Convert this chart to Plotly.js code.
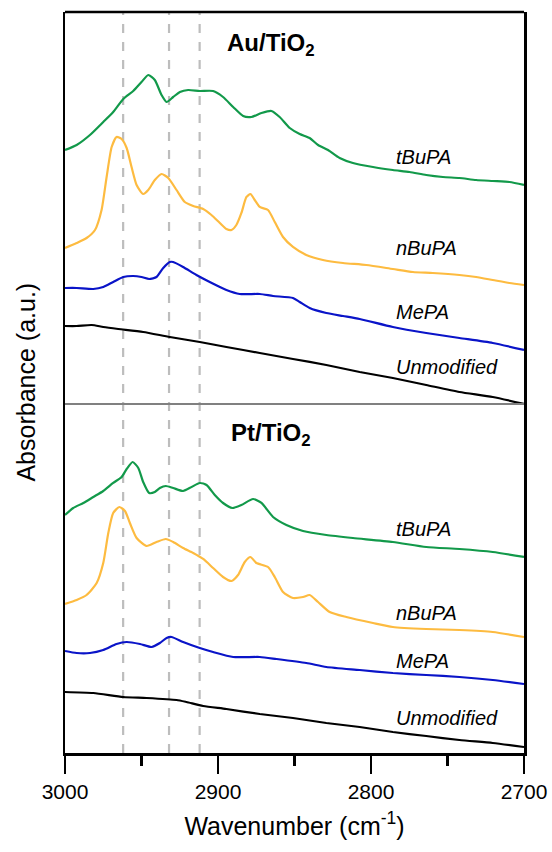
<!DOCTYPE html>
<html>
<head>
<meta charset="utf-8">
<script src="https://cdn.plot.ly/plotly-3.0.1.min.js"></script>
<style>html,body{margin:0;padding:0;background:#fff;}#chart{width:552px;height:852px;}</style>
</head>
<body>
<div id="chart"></div>
<script>
// ---- Au/TiO2 panel ----
const auTBuX = [3000,2992.4,2983.7,2975,2968.5,2961.9,2955.4,2950,2945.6,2941.3,2936.9,2933.6,2929.3,2924.9,2919.5,2911.9,2903.2,2896.7,2890.1,2883.6,2878.2,2871.6,2865.1,2859.7,2853.1,2846.6,2840.1,2834.6,2828.1,2820.5,2811.8,2798.7,2785.7,2774.8,2763.9,2753,2742.2,2731.3,2720.4,2709.5,2700];
const auTBuY = [2.54,2.59,2.69,2.82,2.92,3.05,3.13,3.22,3.29,3.24,3.09,3.02,3.07,3.12,3.14,3.13,3.13,3.07,2.97,2.88,2.87,2.91,2.93,2.87,2.76,2.70,2.66,2.59,2.54,2.46,2.41,2.37,2.34,2.32,2.29,2.27,2.26,2.24,2.23,2.22,2.19];
const auNBuX = [3000,2992.4,2985.9,2980.4,2976.1,2972.8,2969.5,2966.3,2963,2959.7,2956.5,2953.2,2948.9,2945.6,2941.3,2936.9,2932.5,2927.1,2921.7,2916.2,2909.7,2904.3,2898.8,2894.5,2891.2,2888,2884.7,2881.4,2878.8,2876,2872.7,2867.3,2862.9,2857.5,2851,2842.3,2831.4,2818.3,2803.1,2785.7,2772.6,2759.6,2742.2,2731.3,2720.4,2709.5,2700];
const auNBuY = [1.56,1.61,1.66,1.74,1.94,2.27,2.57,2.67,2.65,2.56,2.37,2.19,2.10,2.14,2.24,2.30,2.26,2.14,2.02,1.98,1.95,1.89,1.81,1.75,1.74,1.79,1.91,2.07,2.10,2.04,1.97,1.94,1.82,1.67,1.57,1.49,1.44,1.41,1.39,1.35,1.32,1.31,1.29,1.27,1.24,1.21,1.19];
const auMeX = [3000,2992.4,2981.5,2975,2968.5,2961.9,2955.4,2950,2945,2940.2,2935.8,2931.5,2929.3,2922.8,2914.1,2905.4,2894.5,2885.8,2872.7,2864,2851,2846.6,2840.1,2829.2,2818.3,2807.4,2785.7,2763.9,2742.2,2720.4,2700];
const auMeY = [1.16,1.16,1.15,1.17,1.22,1.27,1.28,1.27,1.25,1.27,1.36,1.42,1.42,1.37,1.29,1.22,1.14,1.10,1.10,1.08,1.06,1.02,0.96,0.91,0.88,0.85,0.77,0.71,0.66,0.61,0.54];
const auUnX = [3000,2992.4,2982.6,2975,2965.2,2948.9,2931.5,2911.9,2894.5,2872.7,2851,2829.2,2807.4,2785.7,2763.9,2742.2,2720.4,2700];
const auUnY = [0.78,0.78,0.79,0.77,0.75,0.72,0.67,0.62,0.57,0.51,0.45,0.39,0.32,0.26,0.19,0.12,0.07,0.00];

// ---- Pt/TiO2 panel ----
const ptTBuX = [3000,2994.6,2988,2981.5,2975,2968.5,2963,2959.7,2955.8,2952.1,2948.9,2945,2941.3,2938,2934.1,2929.3,2922.8,2917.3,2911.9,2907.5,2902.1,2896.7,2890.6,2884.7,2877.1,2871.6,2864,2855.3,2844.4,2829.2,2811.8,2785.7,2763.9,2742.2,2720.4,2700];
const ptTBuY = [2.37,2.44,2.49,2.55,2.61,2.69,2.75,2.83,2.90,2.84,2.70,2.59,2.60,2.64,2.66,2.64,2.61,2.65,2.69,2.67,2.57,2.49,2.44,2.47,2.53,2.49,2.35,2.27,2.21,2.17,2.14,2.10,2.05,2.03,2.00,1.95];
const ptNBuX = [3000,2992.4,2985.9,2979.3,2975,2971.7,2968.5,2964.5,2960.8,2957.6,2953.2,2946.7,2940.2,2934.1,2929.3,2922.8,2916.2,2909.7,2903.2,2896.7,2891.2,2886.9,2882.5,2878.8,2874.9,2867.3,2862.9,2857.5,2851,2844.4,2840.1,2834.6,2827,2816.1,2798.7,2785.7,2763.9,2742.2,2720.4,2700];
const ptNBuY = [1.48,1.52,1.57,1.69,1.89,2.19,2.39,2.45,2.41,2.29,2.14,2.06,2.10,2.13,2.10,2.04,1.99,1.93,1.84,1.75,1.71,1.77,1.90,1.95,1.89,1.85,1.75,1.60,1.54,1.55,1.57,1.50,1.40,1.35,1.29,1.25,1.23,1.22,1.20,1.15];
const ptMeX = [3000,2992.4,2983.7,2975,2966.3,2959.7,2951,2943.4,2938,2933.6,2930.4,2922.8,2911.9,2903.2,2890.1,2872.7,2861.8,2842.3,2829.2,2807.4,2785.7,2763.9,2742.2,2720.4,2700];
const ptMeY = [1.01,0.99,0.99,1.02,1.08,1.10,1.08,1.05,1.09,1.14,1.15,1.10,1.04,1.00,0.95,0.95,0.93,0.89,0.85,0.82,0.79,0.77,0.75,0.72,0.68];
const ptUnX = [3000,2981.5,2961.9,2946.7,2927.1,2920.6,2909.7,2894.5,2872.7,2851,2829.2,2807.4,2785.7,2763.9,2742.2,2720.4,2700];
const ptUnY = [0.60,0.59,0.55,0.54,0.52,0.50,0.46,0.43,0.38,0.34,0.29,0.25,0.20,0.16,0.12,0.09,0.05];

const seriesNames = ['tBuPA','nBuPA','MePA','Unmodified'];
const seriesColors = ['#12994a','#fdbb40','#0a14c8','#000000'];
const markerLines = [2962, 2932, 2912];
const xTickVals = [3000, 2900, 2800, 2700];
const panelTitles = ['Au/TiO<sub>2</sub>', 'Pt/TiO<sub>2</sub>'];
// label anchor heights (same units as the spectra)
const auLabelY = [2.47, 1.56, 0.92, 0.37];
const ptLabelY = [2.23, 1.39, 0.91, 0.34];

const FONT = 'Arial, "Liberation Sans", sans-serif';
const auSets = [[auTBuX,auTBuY],[auNBuX,auNBuY],[auMeX,auMeY],[auUnX,auUnY]];
const ptSets = [[ptTBuX,ptTBuY],[ptNBuX,ptNBuY],[ptMeX,ptMeY],[ptUnX,ptUnY]];

const traces = [];
auSets.forEach((s,i)=>traces.push({x:s[0],y:s[1],xaxis:'x',yaxis:'y2',mode:'lines',name:'Au '+seriesNames[i],
  line:{color:seriesColors[i],width:2.2,shape:'spline',smoothing:0.6},hoverinfo:'x+y'}));
ptSets.forEach((s,i)=>traces.push({x:s[0],y:s[1],xaxis:'x',yaxis:'y',mode:'lines',name:'Pt '+seriesNames[i],
  line:{color:seriesColors[i],width:2.2,shape:'spline',smoothing:0.6},hoverinfo:'x+y'}));

const split = 0.471;
const shapes = [];
markerLines.forEach(w=>shapes.push({type:'line',xref:'x',yref:'paper',x0:w,x1:w,y0:0,y1:1,layer:'below',
  line:{color:'#bdbdbd',width:2.2,dash:'9px,9px'}}));
shapes.push({type:'line',xref:'paper',yref:'paper',x0:0,x1:1,y0:split,y1:split,layer:'above',line:{color:'#808080',width:2.2}});
shapes.push({type:'line',xref:'paper',yref:'paper',x0:0,x1:1,y0:1,y1:1,layer:'above',line:{color:'#000',width:2.5}});

const annotations = [];
seriesNames.forEach((n,i)=>{
  annotations.push({xref:'x',yref:'y2',x:2785,y:auLabelY[i],text:n,showarrow:false,xanchor:'left',yanchor:'middle',
    font:{family:FONT,size:20,color:'#000',style:'italic'}});
  annotations.push({xref:'x',yref:'y',x:2785,y:ptLabelY[i],text:n,showarrow:false,xanchor:'left',yanchor:'middle',
    font:{family:FONT,size:20,color:'#000',style:'italic'}});
});
annotations.push({xref:'x',yref:'y2',x:2865.5,y:3.60,text:'<b>'+panelTitles[0]+'</b>',showarrow:false,
  font:{family:FONT,size:24,color:'#000'}});
annotations.push({xref:'x',yref:'y',x:2865.5,y:3.17,text:'<b>'+panelTitles[1]+'</b>',showarrow:false,
  font:{family:FONT,size:24,color:'#000'}});
annotations.push({xref:'paper',yref:'paper',x:-0.087,y:0.5,text:'Absorbance (a.u.)',textangle:-90,showarrow:false,
  xanchor:'center',yanchor:'middle',font:{family:FONT,size:25,color:'#000'}});

const layout = {
  width:552,height:852,
  margin:{l:65,r:28,t:12,b:99},
  paper_bgcolor:'#fff',plot_bgcolor:'#fff',
  showlegend:false,
  font:{family:FONT,color:'#000'},
  xaxis:{range:[3000,2700],anchor:'y',tickvals:xTickVals,ticktext:xTickVals.map(String),
    ticks:'outside',ticklen:18,tickwidth:2.5,tickcolor:'#000',
    minor:{dtick:50,tick0:2950,ticks:'outside',ticklen:10,tickwidth:2.5,tickcolor:'#000'},
    showline:true,linecolor:'#000',linewidth:2.5,showgrid:false,zeroline:false,
    tickfont:{family:FONT,size:21,color:'#000'},
    title:{text:'Wavenumber (cm<sup>-1</sup>)',font:{family:FONT,size:25,color:'#000'},standoff:16}},
  yaxis:{domain:[0,split],range:[-0.01,3.48],showticklabels:false,ticks:'',showgrid:false,zeroline:false,
    showline:true,mirror:true,linecolor:'#000',linewidth:2.5},
  yaxis2:{domain:[split,1],range:[0,3.92],anchor:'x',showticklabels:false,ticks:'',showgrid:false,zeroline:false,
    showline:true,mirror:true,linecolor:'#000',linewidth:2.5},
  shapes:shapes,
  annotations:annotations
};
Plotly.newPlot('chart',traces,layout,{displayModeBar:false,staticPlot:true});
</script>
</body>
</html>
